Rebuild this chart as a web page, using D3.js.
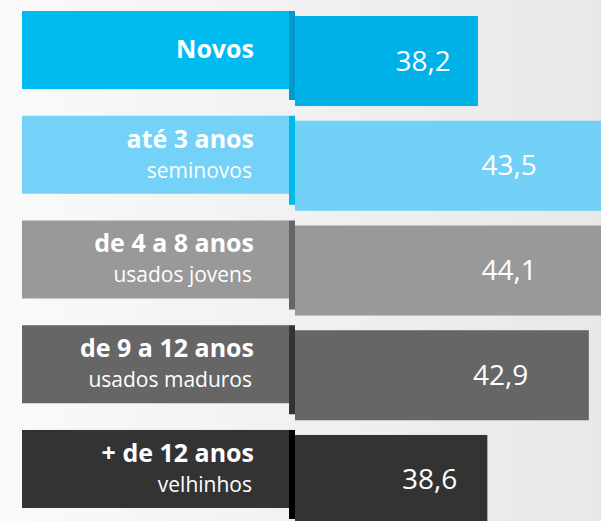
<!DOCTYPE html>
<meta charset="utf-8">
<script src="https://d3js.org/d3.v7.min.js"></script>
<style>
  body { margin: 0; overflow: hidden; }
  text { font-family: "Open Sans", sans-serif; fill: #fff; }
</style>
<div id="my_dataviz"></div>
<script>

  // data
  var categories = ["Novos", "até 3 anos", "de 4 a 8 anos", "de 9 a 12 anos", "+ de 12 anos"];
  var subtitles = ["", "seminovos", "usados jovens", "usados maduros", "velhinhos"];
  var values = [38.2, 43.5, 44.1, 42.9, 38.6];

  var labelColors = ["#00bbf0", "#74d1f7", "#999999", "#666666", "#333333"];
  var edgeColors = ["#0099c9", "#00b9ef", "#666666", "#333333", "#000000"];
  var barColors = ["#00b1e7", "#73d0f7", "#999999", "#666666", "#333333"];

  var width = 601, height = 521;

  var svg = d3.select("#my_dataviz")
    .append("svg")
    .attr("width", width)
    .attr("height", height);

  // light grey background, fading to the right
  var grad = svg.append("defs").append("linearGradient")
    .attr("id", "bg")
    .attr("x1", "0%").attr("x2", "100%").attr("y1", "0%").attr("y2", "0%");
  grad.append("stop").attr("offset", "0%").attr("stop-color", "#fafafa");
  grad.append("stop").attr("offset", "100%").attr("stop-color", "#e8e8e8");
  svg.append("rect")
    .attr("width", width).attr("height", height)
    .attr("fill", "url(#bg)");

  var rows = categories.map(function (c, i) {
    return { cat: c, sub: subtitles[i], value: values[i], i: i };
  });

  // one band per category
  var y = d3.scaleBand()
    .domain(categories)
    .range([11, 519])
    .paddingInner(0.15)
    .paddingOuter(0);

  // bars grow from the divider
  var x0 = 295;
  var x = d3.scaleLinear()
    .domain([30.45, 44.1])
    .range([x0, x0 + 23.6 * (44.1 - 30.45)]);

  var labelLeft = 22, labelRight = 289;

  var g = svg.selectAll(".row")
    .data(rows)
    .enter().append("g")
    .attr("class", "row")
    .attr("transform", function (d) { return "translate(0," + y(d.cat) + ")"; });

  // value bars
  g.append("rect")
    .attr("x", x0)
    .attr("y", 5)
    .attr("width", function (d) { return x(d.value) - x0; })
    .attr("height", y.bandwidth() + 1)
    .attr("fill", function (d) { return barColors[d.i]; });

  // label boxes
  g.append("rect")
    .attr("x", labelLeft)
    .attr("y", 0)
    .attr("width", labelRight - labelLeft)
    .attr("height", 78)
    .attr("fill", function (d) { return labelColors[d.i]; });

  // dark strip between label and bar
  g.append("rect")
    .attr("x", labelRight)
    .attr("y", 0)
    .attr("width", 6)
    .attr("height", y.bandwidth())
    .attr("fill", function (d) { return edgeColors[d.i]; });

  // category names
  g.append("text")
    .attr("x", 254)
    .attr("y", function (d) { return d.sub ? 32 : 47; })
    .attr("text-anchor", "end")
    .style("font-size", "25px")
    .style("font-weight", "bold")
    .text(function (d) { return d.cat; });

  g.append("text")
    .attr("x", 252)
    .attr("y", 62)
    .attr("text-anchor", "end")
    .style("font-size", "21px")
    .text(function (d) { return d.sub; });

  // values, placed well inside each visible bar
  g.append("text")
    .attr("x", function (d) {
      var end = Math.min(x(d.value), width);
      return x0 + 0.7 * (end - x0);
    })
    .attr("y", 5 + y.bandwidth() / 2 + 10)
    .attr("text-anchor", "middle")
    .style("font-size", "28px")
    .text(function (d) { return d3.format(".1f")(d.value).replace(".", ","); });

</script>
